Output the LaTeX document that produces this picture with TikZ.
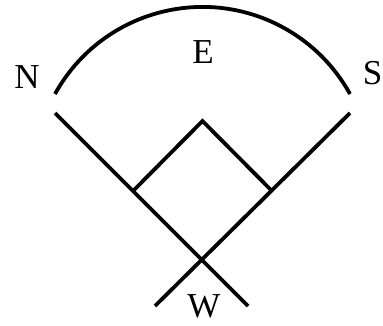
\documentclass[tikz,border=0pt]{standalone}
\usepackage{fontspec}
\setmainfont{Liberation Serif}
\begin{document}
\begin{tikzpicture}[x=1pt,y=1pt,
  stroke/.style={line width=3.8pt},
  lbl/.style={font=\fontsize{35}{35}\selectfont, inner sep=0pt}]
\useasboundingbox (0,0) rectangle (383,325);
% end points
\coordinate (arcL) at (55,231);
\coordinate (lineLtop) at (55,212);
\coordinate (lineLbot) at (248,19);
\coordinate (lineRtop) at (350,212);
\coordinate (lineRbot) at (155,19);
\coordinate (sqL) at (133,134);
\coordinate (sqR) at (272,134);
\coordinate (sqT) at (202.5,204);
% arc
\draw[stroke] (arcL) arc[start angle=151.1, end angle=28.9, radius=168.5];
% crossing lines
\draw[stroke] (lineLtop) -- (lineLbot);
\draw[stroke] (lineRtop) -- (lineRbot);
% square top
\draw[stroke] (sqL) -- (sqT) -- (sqR);
% labels
\node[lbl] (N) at (27,248) {N};
\node[lbl] (E) at (203,273) {E};
\node[lbl] (S) at (372.5,252) {S};
\node[lbl] (W) at (204,18.5) {W};
\end{tikzpicture}
\end{document}
